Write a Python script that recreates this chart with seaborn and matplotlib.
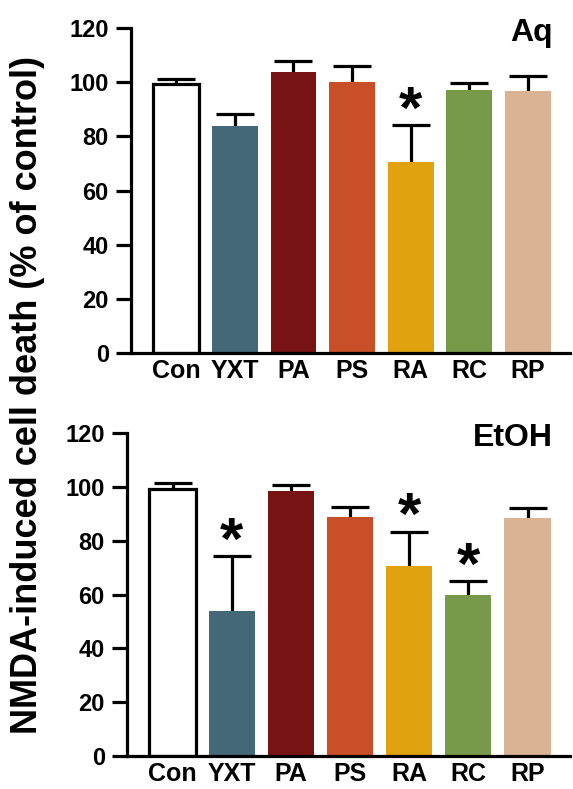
import matplotlib
matplotlib.use("Agg")
import matplotlib.pyplot as plt
import numpy as np
import pandas as pd
import seaborn as sns

categories = ["Con", "YXT", "PA", "PS", "RA", "RC", "RP"]
colors = ["#FFFFFF", "#456878", "#771313", "#C94F28", "#E0A20E", "#77994A", "#D9B393"]

aq_mean = [99.5, 83.7, 103.6, 100.2, 70.4, 97.0, 96.7]
aq_sem = [1.8, 4.5, 4.3, 5.6, 13.9, 2.6, 5.7]
aq_sig = ["RA"]

etoh_mean = [99.2, 53.7, 98.3, 88.9, 70.5, 59.8, 88.3]
etoh_sem = [2.2, 20.7, 2.5, 3.6, 12.9, 5.3, 3.8]
etoh_sig = ["YXT", "RA", "RC"]

y_ticks = [0, 20, 40, 60, 80, 100, 120]

sns.set_style("ticks")
plt.rcParams["font.family"] = ["Liberation Sans", "DejaVu Sans"]
plt.rcParams["font.weight"] = "bold"
plt.rcParams["text.color"] = "black"
plt.rcParams["axes.edgecolor"] = "black"
plt.rcParams["xtick.color"] = "black"
plt.rcParams["ytick.color"] = "black"
plt.rcParams["axes.labelcolor"] = "black"

LW = 2.3


def draw_panel(ax, means, sems, sig, label):
    df = pd.DataFrame({"group": categories, "value": means})
    sns.barplot(
        data=df, x="group", y="value", hue="group",
        palette=dict(zip(categories, colors)), legend=False, saturation=1,
        width=0.78, ax=ax, zorder=2, errorbar=None,
    )
    # white control bar gets a black outline
    ax.patches[0].set_edgecolor("black")
    ax.patches[0].set_linewidth(LW)
    for p in ax.patches[1:]:
        p.set_edgecolor("none")

    xpos = np.arange(len(categories))
    eb = ax.errorbar(
        xpos, means, yerr=[np.zeros(len(sems)), sems], fmt="none",
        ecolor="black", elinewidth=LW, capsize=14, capthick=LW, zorder=1,
    )
    # only the upper cap is shown
    eb[1][0].set_visible(False)
    for i, name in enumerate(categories):
        if name in sig:
            ax.text(xpos[i], means[i] + sems[i] - 5.5, "*", ha="center", va="bottom",
                    fontsize=43, fontweight="bold", color="black")

    ax.set_xlim(-0.77, 6.72)
    ax.set_ylim(0, 120)
    ax.set_yticks(y_ticks)
    ax.set_xlabel("")
    ax.set_ylabel("")
    sns.despine(ax=ax)
    for side in ["left", "bottom"]:
        ax.spines[side].set_linewidth(LW)
    ax.tick_params(axis="y", width=LW, length=11, labelsize=17, pad=5)
    ax.tick_params(axis="x", length=0, labelsize=18, pad=4)
    for t in ax.get_yticklabels() + ax.get_xticklabels():
        t.set_fontweight("bold")
    ax.text(0.96, 1.03, label, transform=ax.transAxes, ha="right", va="top",
            fontsize=23, fontweight="bold")


fig = plt.figure(figsize=(5.73, 7.89), dpi=100)
ax_top = fig.add_axes([0.2286, 0.5526, 0.7664, 0.4119])
ax_bot = fig.add_axes([0.2216, 0.0418, 0.7734, 0.4094])

draw_panel(ax_top, aq_mean, aq_sem, aq_sig, "Aq")
draw_panel(ax_bot, etoh_mean, etoh_sem, etoh_sig, "EtOH")

fig.text(0.048, 0.5, "NMDA-induced cell death (% of control)", rotation=90,
         ha="center", va="center", fontsize=26, fontweight="bold")

fig.savefig("out.png", dpi=100)
